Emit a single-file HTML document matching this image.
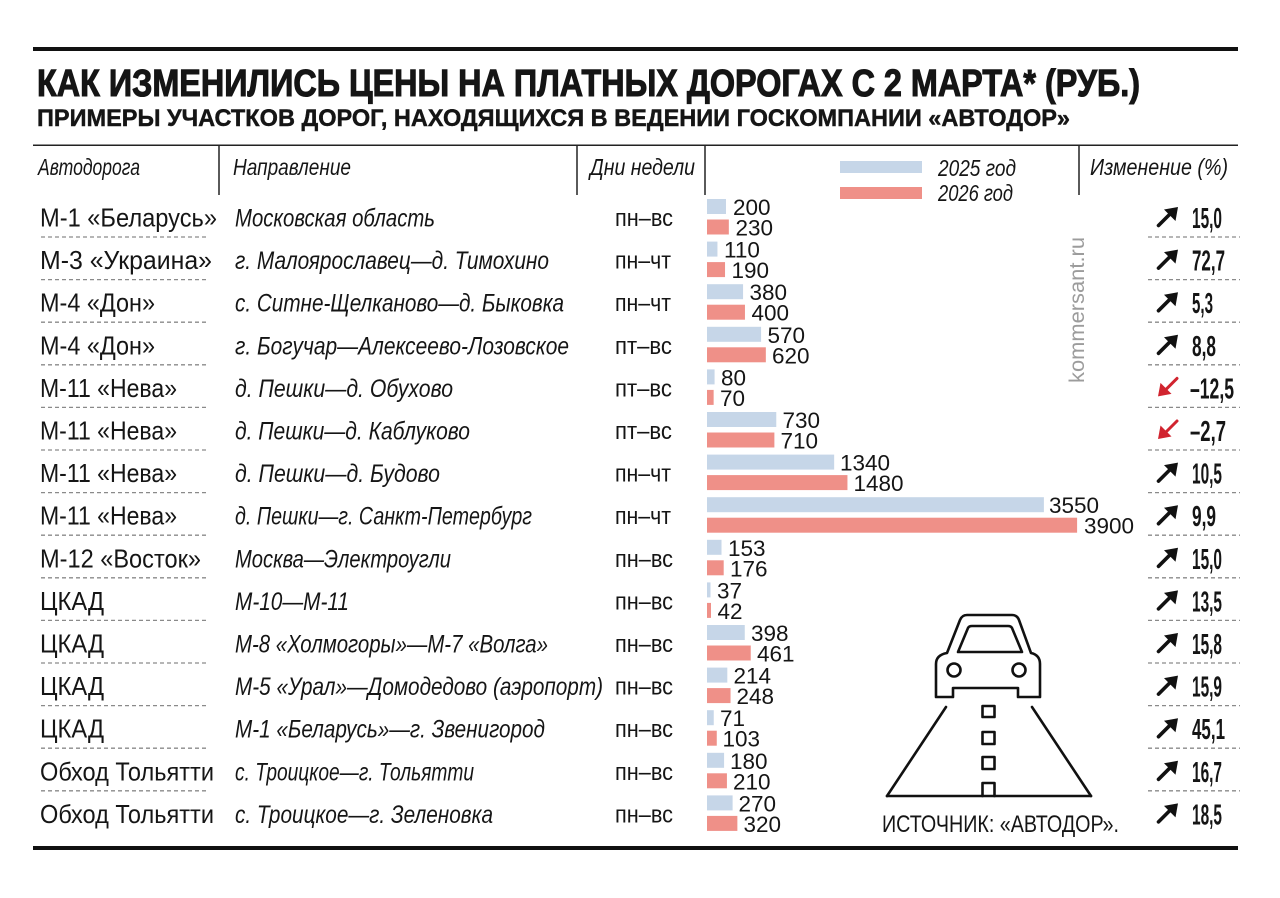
<!DOCTYPE html>
<html>
<head>
<meta charset="utf-8">
<style>
  html,body{margin:0;padding:0;background:#fff;}
  svg{display:block;}
  text{font-family:"Liberation Sans","DejaVu Sans",sans-serif;fill:#151515;}
  .title{font-weight:bold;font-size:38px;stroke:#151515;stroke-width:1.1px;}
  .sub{font-weight:bold;font-size:24px;stroke:#151515;stroke-width:0.45px;}
  .hdr{font-style:italic;font-size:23px;}
  .name{font-size:26px;}
  .dir{font-style:italic;font-size:25px;}
  .day{font-size:24px;}
  .lbl{font-size:22.5px;}
  .val{font-weight:bold;font-size:29px;}
  .wm{font-size:21px;fill:#9c9c9c;}
  .src{font-size:24px;}
</style>
</head>
<body>
<svg width="1280" height="898" viewBox="0 0 1280 898" xmlns="http://www.w3.org/2000/svg">
  <rect width="1280" height="898" fill="#fff"/>
  <!-- rules -->
  <rect x="33" y="47" width="1205" height="4" fill="#111"/>
  <rect x="33" y="144.5" width="1205" height="1.5" fill="#222"/>
  <rect x="33" y="846" width="1205" height="4" fill="#111"/>

  <!-- titles -->
  <text class="title" x="37" y="96" textLength="1103" lengthAdjust="spacingAndGlyphs">КАК ИЗМЕНИЛИСЬ ЦЕНЫ НА ПЛАТНЫХ ДОРОГАХ С 2 МАРТА* (РУБ.)</text>
  <text class="sub" x="37" y="126" textLength="1033" lengthAdjust="spacingAndGlyphs">ПРИМЕРЫ УЧАСТКОВ ДОРОГ, НАХОДЯЩИХСЯ В ВЕДЕНИИ ГОСКОМПАНИИ «АВТОДОР»</text>

  <!-- header -->
  <g stroke="#222" stroke-width="1.5">
    <line x1="219" y1="145" x2="219" y2="195"/>
    <line x1="577" y1="145" x2="577" y2="195"/>
    <line x1="705" y1="145" x2="705" y2="195"/>
    <line x1="1079" y1="145" x2="1079" y2="195"/>
  </g>
  <text class="hdr" x="38" y="175" textLength="102" lengthAdjust="spacingAndGlyphs">Автодорога</text>
  <text class="hdr" x="233" y="175" textLength="118" lengthAdjust="spacingAndGlyphs">Направление</text>
  <text class="hdr" x="590" y="175" textLength="105" lengthAdjust="spacingAndGlyphs">Дни недели</text>
  <text class="hdr" x="1090" y="175" textLength="138" lengthAdjust="spacingAndGlyphs">Изменение (%)</text>
  <rect x="840" y="161" width="82" height="12" fill="#c6d6e8"/>
  <rect x="840" y="187" width="82" height="12" fill="#ef9088"/>
  <text class="hdr" x="938" y="176" textLength="78" lengthAdjust="spacingAndGlyphs">2025 год</text>
  <text class="hdr" x="938" y="201" textLength="75" lengthAdjust="spacingAndGlyphs">2026 год</text>

  <!-- dashed separators -->
  <g stroke="#8a8a8a" stroke-width="1.3" stroke-dasharray="4 3">
    <line x1="41" y1="237" x2="208" y2="237"/><line x1="1148" y1="237" x2="1240" y2="237"/>
    <line x1="41" y1="279.6" x2="208" y2="279.6"/><line x1="1148" y1="279.6" x2="1240" y2="279.6"/>
    <line x1="41" y1="322.2" x2="208" y2="322.2"/><line x1="1148" y1="322.2" x2="1240" y2="322.2"/>
    <line x1="41" y1="364.8" x2="208" y2="364.8"/><line x1="1148" y1="364.8" x2="1240" y2="364.8"/>
    <line x1="41" y1="407.4" x2="208" y2="407.4"/><line x1="1148" y1="407.4" x2="1240" y2="407.4"/>
    <line x1="41" y1="450" x2="208" y2="450"/><line x1="1148" y1="450" x2="1240" y2="450"/>
    <line x1="41" y1="492.6" x2="208" y2="492.6"/><line x1="1148" y1="492.6" x2="1240" y2="492.6"/>
    <line x1="41" y1="535.2" x2="208" y2="535.2"/><line x1="1148" y1="535.2" x2="1240" y2="535.2"/>
    <line x1="41" y1="577.8" x2="208" y2="577.8"/><line x1="1148" y1="577.8" x2="1240" y2="577.8"/>
    <line x1="41" y1="620.4" x2="208" y2="620.4"/><line x1="1148" y1="620.4" x2="1240" y2="620.4"/>
    <line x1="41" y1="663" x2="208" y2="663"/><line x1="1148" y1="663" x2="1240" y2="663"/>
    <line x1="41" y1="705.6" x2="208" y2="705.6"/><line x1="1148" y1="705.6" x2="1240" y2="705.6"/>
    <line x1="41" y1="748.2" x2="208" y2="748.2"/><line x1="1148" y1="748.2" x2="1240" y2="748.2"/>
    <line x1="41" y1="790.8" x2="208" y2="790.8"/><line x1="1148" y1="790.8" x2="1240" y2="790.8"/>
  </g>

  <!-- road names -->
  <g>
    <text class="name" x="40" y="226.5" textLength="177" lengthAdjust="spacingAndGlyphs">М-1 «Беларусь»</text>
    <text class="name" x="40" y="269.1" textLength="172" lengthAdjust="spacingAndGlyphs">М-3 «Украина»</text>
    <text class="name" x="40" y="311.7" textLength="115" lengthAdjust="spacingAndGlyphs">М-4 «Дон»</text>
    <text class="name" x="40" y="354.3" textLength="115" lengthAdjust="spacingAndGlyphs">М-4 «Дон»</text>
    <text class="name" x="40" y="396.9" textLength="137" lengthAdjust="spacingAndGlyphs">М-11 «Нева»</text>
    <text class="name" x="40" y="439.5" textLength="137" lengthAdjust="spacingAndGlyphs">М-11 «Нева»</text>
    <text class="name" x="40" y="482.1" textLength="137" lengthAdjust="spacingAndGlyphs">М-11 «Нева»</text>
    <text class="name" x="40" y="524.7" textLength="137" lengthAdjust="spacingAndGlyphs">М-11 «Нева»</text>
    <text class="name" x="40" y="567.3" textLength="161" lengthAdjust="spacingAndGlyphs">М-12 «Восток»</text>
    <text class="name" x="40" y="609.9" textLength="64" lengthAdjust="spacingAndGlyphs">ЦКАД</text>
    <text class="name" x="40" y="652.5" textLength="64" lengthAdjust="spacingAndGlyphs">ЦКАД</text>
    <text class="name" x="40" y="695.1" textLength="64" lengthAdjust="spacingAndGlyphs">ЦКАД</text>
    <text class="name" x="40" y="737.7" textLength="64" lengthAdjust="spacingAndGlyphs">ЦКАД</text>
    <text class="name" x="40" y="780.3" textLength="174" lengthAdjust="spacingAndGlyphs">Обход Тольятти</text>
    <text class="name" x="40" y="822.9" textLength="174" lengthAdjust="spacingAndGlyphs">Обход Тольятти</text>
  </g>

  <!-- directions -->
  <g>
    <text class="dir" x="235" y="226.5" textLength="200" lengthAdjust="spacingAndGlyphs">Московская область</text>
    <text class="dir" x="235" y="269.1" textLength="314" lengthAdjust="spacingAndGlyphs">г. Малоярославец—д. Тимохино</text>
    <text class="dir" x="235" y="311.7" textLength="329" lengthAdjust="spacingAndGlyphs">с. Ситне-Щелканово—д. Быковка</text>
    <text class="dir" x="235" y="354.3" textLength="334" lengthAdjust="spacingAndGlyphs">г. Богучар—Алексеево-Лозовское</text>
    <text class="dir" x="235" y="396.9" textLength="218" lengthAdjust="spacingAndGlyphs">д. Пешки—д. Обухово</text>
    <text class="dir" x="235" y="439.5" textLength="235" lengthAdjust="spacingAndGlyphs">д. Пешки—д. Каблуково</text>
    <text class="dir" x="235" y="482.1" textLength="205" lengthAdjust="spacingAndGlyphs">д. Пешки—д. Будово</text>
    <text class="dir" x="235" y="524.7" textLength="297" lengthAdjust="spacingAndGlyphs">д. Пешки—г. Санкт-Петербург</text>
    <text class="dir" x="235" y="567.3" textLength="216" lengthAdjust="spacingAndGlyphs">Москва—Электроугли</text>
    <text class="dir" x="235" y="609.9" textLength="114" lengthAdjust="spacingAndGlyphs">М-10—М-11</text>
    <text class="dir" x="235" y="652.5" textLength="313" lengthAdjust="spacingAndGlyphs">М-8 «Холмогоры»—М-7 «Волга»</text>
    <text class="dir" x="235" y="695.1" textLength="368" lengthAdjust="spacingAndGlyphs">М-5 «Урал»—Домодедово (аэропорт)</text>
    <text class="dir" x="235" y="737.7" textLength="310" lengthAdjust="spacingAndGlyphs">М-1 «Беларусь»—г. Звенигород</text>
    <text class="dir" x="235" y="780.3" textLength="239" lengthAdjust="spacingAndGlyphs">с. Троицкое—г. Тольятти</text>
    <text class="dir" x="235" y="822.9" textLength="258" lengthAdjust="spacingAndGlyphs">с. Троицкое—г. Зеленовка</text>
  </g>

  <!-- days -->
  <g>
    <text class="day" x="615" y="226" textLength="58" lengthAdjust="spacingAndGlyphs">пн–вс</text>
    <text class="day" x="615" y="268.6" textLength="56" lengthAdjust="spacingAndGlyphs">пн–чт</text>
    <text class="day" x="615" y="311.2" textLength="56" lengthAdjust="spacingAndGlyphs">пн–чт</text>
    <text class="day" x="615" y="353.8" textLength="57" lengthAdjust="spacingAndGlyphs">пт–вс</text>
    <text class="day" x="615" y="396.4" textLength="57" lengthAdjust="spacingAndGlyphs">пт–вс</text>
    <text class="day" x="615" y="439" textLength="57" lengthAdjust="spacingAndGlyphs">пт–вс</text>
    <text class="day" x="615" y="481.6" textLength="56" lengthAdjust="spacingAndGlyphs">пн–чт</text>
    <text class="day" x="615" y="524.2" textLength="56" lengthAdjust="spacingAndGlyphs">пн–чт</text>
    <text class="day" x="615" y="566.8" textLength="58" lengthAdjust="spacingAndGlyphs">пн–вс</text>
    <text class="day" x="615" y="609.4" textLength="58" lengthAdjust="spacingAndGlyphs">пн–вс</text>
    <text class="day" x="615" y="652" textLength="58" lengthAdjust="spacingAndGlyphs">пн–вс</text>
    <text class="day" x="615" y="694.6" textLength="58" lengthAdjust="spacingAndGlyphs">пн–вс</text>
    <text class="day" x="615" y="737.2" textLength="58" lengthAdjust="spacingAndGlyphs">пн–вс</text>
    <text class="day" x="615" y="779.8" textLength="58" lengthAdjust="spacingAndGlyphs">пн–вс</text>
    <text class="day" x="615" y="822.4" textLength="58" lengthAdjust="spacingAndGlyphs">пн–вс</text>
  </g>

  <!-- bars -->
  <g fill="#c6d6e8">
    <rect x="707" y="199" width="18.98" height="15"/>
    <rect x="707" y="241.6" width="10.44" height="15"/>
    <rect x="707" y="284.2" width="36.06" height="15"/>
    <rect x="707" y="326.8" width="54.09" height="15"/>
    <rect x="707" y="369.4" width="7.59" height="15"/>
    <rect x="707" y="412" width="69.28" height="15"/>
    <rect x="707" y="454.6" width="127.17" height="15"/>
    <rect x="707" y="497.2" width="336.9" height="15"/>
    <rect x="707" y="539.8" width="14.52" height="15"/>
    <rect x="707" y="582.4" width="3.51" height="15"/>
    <rect x="707" y="625" width="37.77" height="15"/>
    <rect x="707" y="667.6" width="20.31" height="15"/>
    <rect x="707" y="710.2" width="6.74" height="15"/>
    <rect x="707" y="752.8" width="17.08" height="15"/>
    <rect x="707" y="795.4" width="25.62" height="15"/>
  </g>
  <g fill="#ef9088">
    <rect x="707" y="219.5" width="21.83" height="15"/>
    <rect x="707" y="262.1" width="18.03" height="15"/>
    <rect x="707" y="304.7" width="37.96" height="15"/>
    <rect x="707" y="347.3" width="58.84" height="15"/>
    <rect x="707" y="389.9" width="6.64" height="15"/>
    <rect x="707" y="432.5" width="67.38" height="15"/>
    <rect x="707" y="475.1" width="140.45" height="15"/>
    <rect x="707" y="517.7" width="370.1" height="15"/>
    <rect x="707" y="560.3" width="16.7" height="15"/>
    <rect x="707" y="602.9" width="3.99" height="15"/>
    <rect x="707" y="645.5" width="43.75" height="15"/>
    <rect x="707" y="688.1" width="23.54" height="15"/>
    <rect x="707" y="730.7" width="9.77" height="15"/>
    <rect x="707" y="773.3" width="19.93" height="15"/>
    <rect x="707" y="815.9" width="30.37" height="15"/>
  </g>

  <!-- bar labels -->
  <g>
    <text class="lbl" x="733" y="215">200</text>
    <text class="lbl" x="735.5" y="235.5">230</text>
    <text class="lbl" x="724" y="257.6">110</text>
    <text class="lbl" x="731.5" y="278.1">190</text>
    <text class="lbl" x="749.5" y="300.2">380</text>
    <text class="lbl" x="751.5" y="320.7">400</text>
    <text class="lbl" x="767.5" y="342.8">570</text>
    <text class="lbl" x="772" y="363.3">620</text>
    <text class="lbl" x="721" y="385.4">80</text>
    <text class="lbl" x="720" y="405.9">70</text>
    <text class="lbl" x="782.5" y="428">730</text>
    <text class="lbl" x="780.5" y="448.5">710</text>
    <text class="lbl" x="840" y="470.6">1340</text>
    <text class="lbl" x="853.5" y="491.1">1480</text>
    <text class="lbl" x="1049" y="513.2">3550</text>
    <text class="lbl" x="1084" y="533.7">3900</text>
    <text class="lbl" x="728" y="555.8">153</text>
    <text class="lbl" x="730" y="576.3">176</text>
    <text class="lbl" x="717" y="598.4">37</text>
    <text class="lbl" x="717.5" y="618.9">42</text>
    <text class="lbl" x="751" y="641">398</text>
    <text class="lbl" x="757" y="661.5">461</text>
    <text class="lbl" x="733.5" y="683.6">214</text>
    <text class="lbl" x="736.5" y="704.1">248</text>
    <text class="lbl" x="720" y="726.2">71</text>
    <text class="lbl" x="722.5" y="746.7">103</text>
    <text class="lbl" x="730" y="768.8">180</text>
    <text class="lbl" x="733" y="789.3">210</text>
    <text class="lbl" x="738.5" y="811.4">270</text>
    <text class="lbl" x="743.5" y="831.9">320</text>
  </g>

  <!-- watermark -->
  <text class="wm" transform="translate(1084,383) rotate(-90)" x="0" y="0" textLength="146" lengthAdjust="spacingAndGlyphs">kommersant.ru</text>

  <!-- change arrows -->
  <defs>
    <g id="up">
      <line x1="1158.5" y1="-1.5" x2="1171" y2="-14" stroke="#111" stroke-width="3.6" stroke-linecap="round"/>
      <polygon points="1178,-20 1164,-17.5 1175.5,-6" fill="#111"/>
    </g>
    <g id="down">
      <line x1="1177" y1="-19" x2="1164.5" y2="-6.5" stroke="#d1242f" stroke-width="3" stroke-linecap="round"/>
      <polygon points="1158,-1 1160.5,-14.5 1171.5,-3.5" fill="#d1242f"/>
    </g>
  </defs>
  <use href="#up" transform="translate(0,227)"/>
  <use href="#up" transform="translate(0,269.6)"/>
  <use href="#up" transform="translate(0,312.2)"/>
  <use href="#up" transform="translate(0,354.8)"/>
  <use href="#down" transform="translate(0,397.4)"/>
  <use href="#down" transform="translate(0,440)"/>
  <use href="#up" transform="translate(0,482.6)"/>
  <use href="#up" transform="translate(0,525.2)"/>
  <use href="#up" transform="translate(0,567.8)"/>
  <use href="#up" transform="translate(0,610.4)"/>
  <use href="#up" transform="translate(0,653)"/>
  <use href="#up" transform="translate(0,695.6)"/>
  <use href="#up" transform="translate(0,738.2)"/>
  <use href="#up" transform="translate(0,780.8)"/>
  <use href="#up" transform="translate(0,823.4)"/>

  <!-- change values -->
  <g>
    <text class="val" x="1192" y="228" textLength="30" lengthAdjust="spacingAndGlyphs">15,0</text>
    <text class="val" x="1192" y="270.6" textLength="33" lengthAdjust="spacingAndGlyphs">72,7</text>
    <text class="val" x="1192" y="313.2" textLength="21" lengthAdjust="spacingAndGlyphs">5,3</text>
    <text class="val" x="1192" y="355.8" textLength="24" lengthAdjust="spacingAndGlyphs">8,8</text>
    <text class="val" x="1190" y="398.4" textLength="44" lengthAdjust="spacingAndGlyphs">–12,5</text>
    <text class="val" x="1190" y="441" textLength="36" lengthAdjust="spacingAndGlyphs">–2,7</text>
    <text class="val" x="1192" y="483.6" textLength="30" lengthAdjust="spacingAndGlyphs">10,5</text>
    <text class="val" x="1192" y="526.2" textLength="24" lengthAdjust="spacingAndGlyphs">9,9</text>
    <text class="val" x="1192" y="568.8" textLength="30" lengthAdjust="spacingAndGlyphs">15,0</text>
    <text class="val" x="1192" y="611.4" textLength="30" lengthAdjust="spacingAndGlyphs">13,5</text>
    <text class="val" x="1192" y="654" textLength="30" lengthAdjust="spacingAndGlyphs">15,8</text>
    <text class="val" x="1192" y="696.6" textLength="30" lengthAdjust="spacingAndGlyphs">15,9</text>
    <text class="val" x="1192" y="739.2" textLength="33" lengthAdjust="spacingAndGlyphs">45,1</text>
    <text class="val" x="1192" y="781.8" textLength="30" lengthAdjust="spacingAndGlyphs">16,7</text>
    <text class="val" x="1192" y="824.4" textLength="30" lengthAdjust="spacingAndGlyphs">18,5</text>
  </g>

  <!-- car + road icon -->
  <g fill="none" stroke="#111" stroke-width="2.6" stroke-linejoin="round" stroke-linecap="round">
    <path d="M947,653 L960,620 Q962,615 967,615 L1012,615 Q1017,615 1019,620 L1031,653
             Q1040,655 1040,664 L1040,697 L1018,697 L1018,688 L953,688 L953,697 L936,697 L936,664
             Q936,655 947,653 Z"/>
    <path d="M958,652 L968,628 Q969,626 972,626 L1008,626 Q1011,626 1012,628 L1022,652 Z"/>
    <circle cx="954" cy="670" r="6.5"/>
    <circle cx="1019" cy="670" r="6.5"/>
    <line x1="946" y1="707" x2="887" y2="796"/>
    <line x1="1032" y1="707" x2="1091" y2="796"/>
    <line x1="887" y1="796" x2="1091" y2="796"/>
    <rect x="982.5" y="706" width="12" height="11"/>
    <rect x="982.5" y="732" width="12" height="12"/>
    <rect x="982.5" y="757" width="12" height="12"/>
    <path d="M982.5,796 L982.5,783 L994.5,783 L994.5,796"/>
  </g>
  <text class="src" x="882" y="832" textLength="237" lengthAdjust="spacingAndGlyphs">ИСТОЧНИК: «АВТОДОР».</text>
</svg>
</body>
</html>
